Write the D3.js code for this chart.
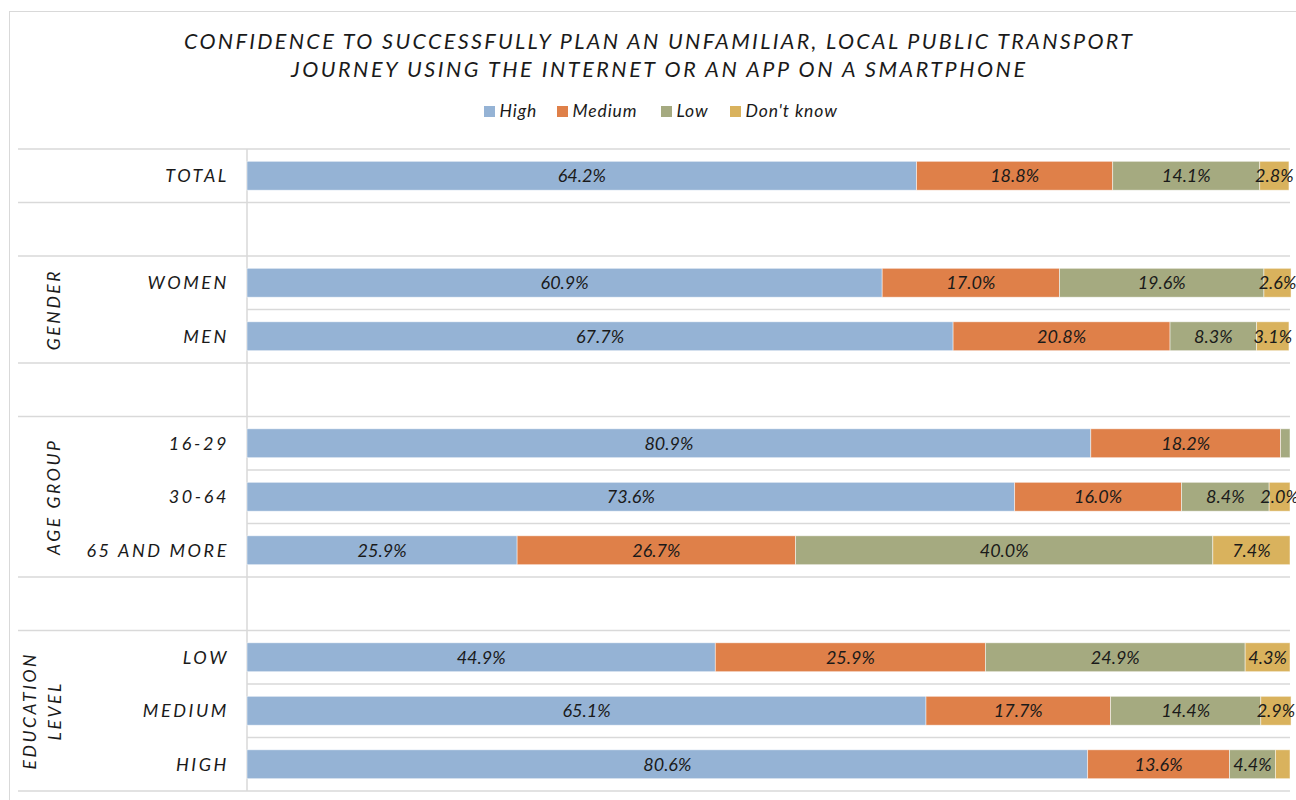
<!DOCTYPE html>
<html>
<head>
<meta charset="utf-8">
<script src="https://cdn.jsdelivr.net/npm/d3@7"></script>
<style>
  html, body { margin: 0; padding: 0; background: #fff; }
  svg { display: block; }
  text { font-family: Lato, "Open Sans", sans-serif; font-style: italic; fill: #1a1a1a; }
</style>
</head>
<body>
<svg id="chart" width="1296" height="800"></svg>
<script>
// Row categories (empty strings are spacer rows between groups)
const categories = ["TOTAL", "", "WOMEN", "MEN", "", "16-29", "30-64", "65 AND MORE", "", "LOW", "MEDIUM", "HIGH"];
// Group each row belongs to (index into groupLabels)
const rowGroup = [0, 1, 2, 2, 3, 4, 4, 4, 5, 6, 6, 6];
const groupLabels = [[""], [""], ["GENDER"], [""], ["AGE GROUP"], [""], ["EDUCATION", "LEVEL"]];

const seriesNames = ["High", "Medium", "Low", "Don't know"];
const seriesColors = ["#95b3d5", "#df8049", "#a5aa80", "#d9b25d"];

// Percent shares per row
const high   = [64.2, null, 60.9, 67.7, null, 80.9, 73.6, 25.9, null, 44.9, 65.1, 80.6];
const medium = [18.8, null, 17.0, 20.8, null, 18.2, 16.0, 26.7, null, 25.9, 17.7, 13.6];
const low    = [14.1, null, 19.6,  8.3, null,  0.9,  8.4, 40.0, null, 24.9, 14.4,  4.4];
const dontKnow = [2.8, null, 2.6,  3.1, null,  0.0,  2.0,  7.4, null,  4.3,  2.9,  1.4];

const titleLines = [
  "CONFIDENCE TO SUCCESSFULLY PLAN AN UNFAMILIAR, LOCAL PUBLIC TRANSPORT",
  "JOURNEY USING THE INTERNET OR AN APP ON A SMARTPHONE"
];

const svg = d3.select("#chart");
const gridColor = "#d9d9d9";

// Chart-area border
svg.append("rect")
  .attr("x", 9.5).attr("y", 11.5)
  .attr("width", 1300).attr("height", 800)
  .attr("fill", "none").attr("stroke", gridColor).attr("stroke-width", 1);

// Title
const titleWidths = [948, 734];
svg.append("g").selectAll("text").data(titleLines).join("text")
  .attr("x", 658).attr("y", (d, i) => 49 + i * 28)
  .attr("text-anchor", "middle")
  .attr("font-size", 21.5)
  .attr("textLength", (d, i) => titleWidths[i])
  .attr("lengthAdjust", "spacing")
  .text(d => d);

// Legend
const legendX = [484, 557, 661, 730];
const legend = svg.append("g").selectAll("g").data(seriesNames).join("g")
  .attr("transform", (d, i) => `translate(${legendX[i]},111)`);
legend.append("rect").attr("x", 0).attr("y", -5).attr("width", 11).attr("height", 11)
  .attr("fill", (d, i) => seriesColors[i]);
legend.append("text").attr("x", 15.5).attr("y", 0).attr("dy", "0.35em")
  .attr("font-size", 17.5).attr("letter-spacing", 0.9).text(d => d);

// Scales
const x = d3.scaleLinear().domain([0, 100]).range([247, 1290]);
const rows = d3.range(categories.length);
const y = d3.scaleBand().domain(rows).range([149, 791]).paddingInner(0.46).paddingOuter(0.23);
const step = y.step();
const top0 = 149;

// Row boundary lines: full-width at group boundaries, plot-only inside groups
const boundaries = d3.range(categories.length + 1);
svg.append("g").selectAll("line").data(boundaries).join("line")
  .attr("x1", i => {
    if (i === 0 || i === categories.length) return 18;
    return rowGroup[i] !== rowGroup[i - 1] ? 18 : 247;
  })
  .attr("x2", 1290)
  .attr("y1", i => top0 + i * step).attr("y2", i => top0 + i * step)
  .attr("stroke", gridColor).attr("stroke-width", 1.5);

// Vertical category axis line
svg.append("line").attr("x1", 247).attr("x2", 247)
  .attr("y1", top0).attr("y2", top0 + categories.length * step)
  .attr("stroke", gridColor).attr("stroke-width", 1.5);

// Stack the series
const table = rows.filter(i => high[i] != null).map(i => ({
  row: i, "High": high[i], "Medium": medium[i], "Low": low[i], "Don't know": dontKnow[i]
}));
const stacked = d3.stack().keys(seriesNames)(table);

const layer = svg.append("g").selectAll("g").data(stacked).join("g")
  .attr("fill", (d, i) => seriesColors[i]);

layer.selectAll("rect").data(d => d).join("rect")
  .attr("x", d => x(d[0]))
  .attr("width", d => Math.max(0, x(d[1]) - x(d[0])))
  .attr("y", d => y(d.data.row))
  .attr("height", y.bandwidth())
  .attr("stroke", "#ffffff").attr("stroke-opacity", 0.6).attr("stroke-width", 0.8);

// Value labels (very small shares are left unlabeled)
layer.selectAll("text").data(d => d.filter(s => s[1] - s[0] >= 1.5)).join("text")
  .attr("x", d => (x(d[0]) + x(d[1])) / 2)
  .attr("y", d => y(d.data.row) + y.bandwidth() / 2)
  .attr("dy", "0.36em")
  .attr("text-anchor", "middle")
  .attr("font-size", 18)
  .style("fill", "#1a1a1a")
  .text(d => (d[1] - d[0]).toFixed(1) + "%");

// Category labels
svg.append("g").selectAll("text").data(rows.filter(i => categories[i])).join("text")
  .attr("x", 229)
  .attr("y", i => y(i) + y.bandwidth() / 2)
  .attr("dy", "0.36em")
  .attr("text-anchor", "end")
  .attr("font-size", 18)
  .attr("letter-spacing", 2.6)
  .text(i => categories[i]);

// Group labels (rotated)
const groupIdx = d3.range(groupLabels.length).filter(g => groupLabels[g][0]);
groupIdx.forEach(g => {
  const members = rows.filter(i => rowGroup[i] === g);
  const cy = top0 + (d3.min(members) + d3.max(members) + 1) / 2 * step;
  const lines = groupLabels[g];
  const xs = lines.length === 1 ? [54] : [30, 55];
  svg.append("g").selectAll("text").data(lines).join("text")
    .attr("transform", (d, k) => `translate(${xs[k]},${cy}) rotate(-90)`)
    .attr("text-anchor", "middle")
    .attr("dy", "0.36em")
    .attr("font-size", 17.5)
    .attr("letter-spacing", 2.6)
    .text(d => d);
});
</script>
</body>
</html>
